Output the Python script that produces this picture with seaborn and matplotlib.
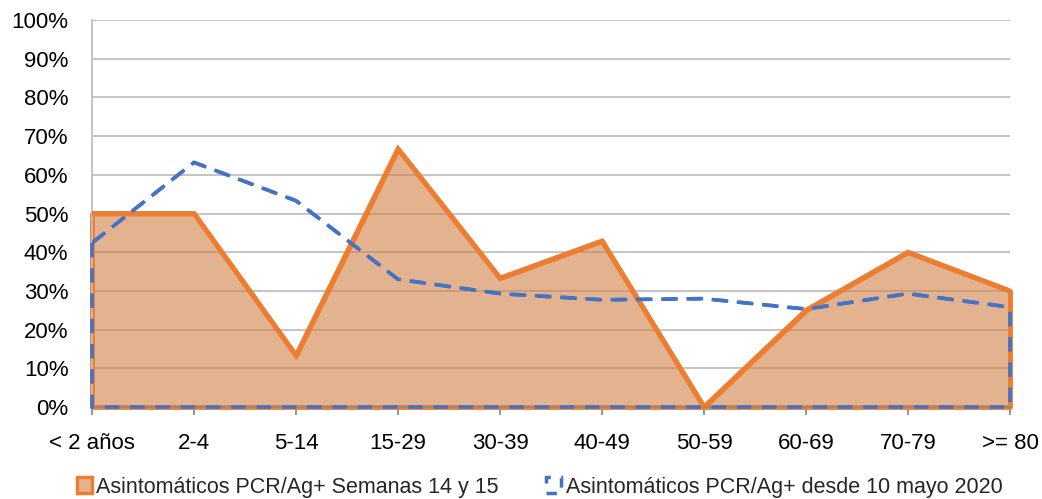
import matplotlib
matplotlib.use("Agg")
import matplotlib.pyplot as plt
from matplotlib.patches import Patch
import seaborn as sns
import numpy as np

categories = ["< 2 años", "2-4", "5-14", "15-29", "30-39", "40-49", "50-59", "60-69", "70-79", ">= 80"]
semanas_14_15 = [50.0, 50.0, 13.3, 66.7, 33.3, 42.9, 0.0, 25.0, 40.0, 30.0]
desde_10_mayo = [42.4, 63.2, 53.3, 33.0, 29.3, 27.7, 28.0, 25.3, 29.3, 25.8]
y_ticks = list(range(0, 101, 10))
label_a = "Asintomáticos PCR/Ag+ Semanas 14 y 15"
label_b = "Asintomáticos PCR/Ag+ desde 10 mayo 2020"

sns.set_theme(style="white")
plt.rcParams["font.family"] = ["Liberation Sans", "DejaVu Sans"]

orange = "#ed7d31"
fill_c = (0.82, 0.50, 0.27, 0.6)
blue = "#4472c4"

fig = plt.figure(figsize=(10.42, 4.99), dpi=100)
ax = fig.add_axes([92 / 1042, 1 - 407 / 499, (1010 - 92) / 1042, (407 - 20) / 499])

x = np.arange(len(categories))
for t in y_ticks[1:]:
    ax.axhline(t, color="#bfbfbf", lw=1.3, zorder=0)

ax.fill_between(x, 0, semanas_14_15, facecolor=fill_c, edgecolor=orange, lw=3.5,
                zorder=2, clip_on=False)
ax.fill_between(x, 0, desde_10_mayo, facecolor="none", edgecolor=blue, lw=2.6,
                linestyle=(0, (4, 3)), zorder=3, clip_on=False)
sns.lineplot(x=x, y=semanas_14_15, color=orange, lw=3.5, ax=ax, zorder=4,
             solid_joinstyle="miter")
sns.lineplot(x=x, y=desde_10_mayo, color=blue, lw=2.6, ax=ax, zorder=5,
             linestyle=(0, (4, 3)))

ax.set_xlim(0, len(categories) - 1)
ax.set_ylim(0, 100)
ax.set_yticks(y_ticks)
ax.set_yticklabels([f"{t}%" for t in y_ticks], fontsize=16, color="#000000")
ax.set_xticks(x)
ax.set_xticklabels(categories, fontsize=16, color="#000000")
for s in ["top", "right"]:
    ax.spines[s].set_visible(False)
ax.spines["left"].set_color("#bfbfbf")
ax.spines["left"].set_linewidth(1.3)
ax.spines["bottom"].set_color("#8c8c8c")
ax.spines["bottom"].set_linewidth(1.3)
ax.tick_params(axis="x", which="major", direction="out", length=6, width=1.3,
               color="#8c8c8c", pad=13, bottom=True)
ax.tick_params(axis="y", length=0, pad=17)
for lab in ax.get_yticklabels():
    lab.set_horizontalalignment("right")
ax.set_xlabel("")
ax.set_ylabel("")

handles = [
    Patch(facecolor=fill_c, edgecolor=orange, lw=2.5, label=label_a),
    Patch(facecolor="none", edgecolor=blue, lw=2.5, linestyle=(0, (3, 3)), label=label_b),
]
fig.legend(handles=handles, loc="center", bbox_to_anchor=(0.518, 0.024), ncol=2,
           frameon=False, fontsize=15.5, handlelength=0.7, handleheight=0.7,
           handletextpad=0.2, columnspacing=2.2)

fig.savefig("out.png", dpi=100)
